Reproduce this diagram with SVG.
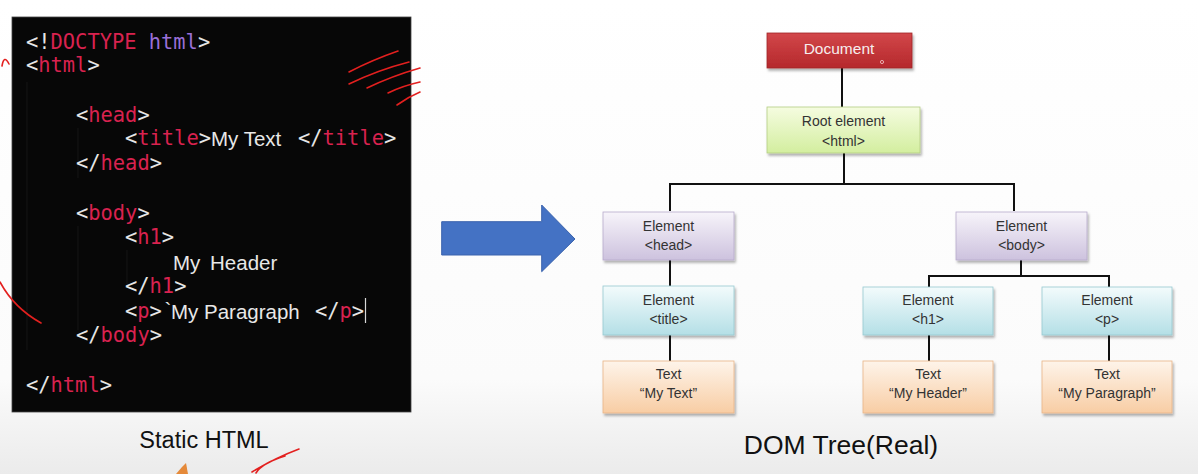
<svg xmlns="http://www.w3.org/2000/svg" width="1198" height="474" viewBox="0 0 1198 474">
<defs>
<linearGradient id="bg" x1="0" y1="0" x2="0" y2="1">
<stop offset="0" stop-color="#ffffff"/>
<stop offset="0.8" stop-color="#fbfbfb"/>
<stop offset="1" stop-color="#ebebeb"/>
</linearGradient>
<linearGradient id="gDoc" x1="0" y1="0" x2="0" y2="1"><stop offset="0" stop-color="#d2474a"/><stop offset="1" stop-color="#b5282c"/></linearGradient>
<linearGradient id="gRoot" x1="0" y1="0" x2="0" y2="1"><stop offset="0" stop-color="#f5fce0"/><stop offset="1" stop-color="#d3ee9f"/></linearGradient>
<linearGradient id="gPur" x1="0" y1="0" x2="0" y2="1"><stop offset="0" stop-color="#f7f4fa"/><stop offset="1" stop-color="#cdc2de"/></linearGradient>
<linearGradient id="gCyan" x1="0" y1="0" x2="0" y2="1"><stop offset="0" stop-color="#f3fbfc"/><stop offset="1" stop-color="#b4dfe6"/></linearGradient>
<linearGradient id="gOra" x1="0" y1="0" x2="0" y2="1"><stop offset="0" stop-color="#fef4ea"/><stop offset="1" stop-color="#f8cda4"/></linearGradient>
<filter id="sh" x="-10%" y="-10%" width="125%" height="135%">
<feDropShadow dx="1.5" dy="2.5" stdDeviation="1.2" flood-color="#000" flood-opacity="0.3"/>
</filter>
</defs>
<style>
.code{font-family:"DejaVu Sans Mono","Liberation Mono",monospace;font-size:20.4px;fill:#e6e6e6}
.tag{fill:#d9224f}
.kw{fill:#9a6fd8}
.plain{font-family:"Liberation Sans",Arial,sans-serif;font-size:20.5px;fill:#e8e8e8}
.lbl{font-family:"Liberation Sans",Arial,sans-serif;font-size:14px;fill:#333;text-anchor:middle}
.cap{font-family:"Liberation Sans",Arial,sans-serif;fill:#111;text-anchor:middle}
.pen{fill:none;stroke:#e3201f;stroke-width:1.6;stroke-linecap:round}
.guide{stroke:#141414;stroke-width:1.2}
.conn{stroke:#111;stroke-width:2;fill:none}
</style>
<rect x="0" y="0" width="1198" height="474" fill="url(#bg)"/>

<!-- code panel -->
<g id="code-panel">
<rect x="12" y="17" width="399" height="395" fill="#070707" stroke="#444" stroke-width="0.8"/>
<line class="guide" x1="27" y1="82" x2="27" y2="350"/>
<line class="guide" x1="78" y1="128" x2="78" y2="178"/>
<line class="guide" x1="78" y1="226" x2="78" y2="330"/>
<line class="guide" x1="127" y1="250" x2="127" y2="285"/>
<text class="code" x="26" y="49">&lt;!<tspan class="tag">DOCTYPE</tspan> <tspan class="kw">html</tspan>&gt;</text>
<text class="code" x="26" y="72">&lt;<tspan class="tag">html</tspan>&gt;</text>
<text class="code" x="76" y="122">&lt;<tspan class="tag">head</tspan>&gt;</text>
<text class="code" x="125" y="145">&lt;<tspan class="tag">title</tspan>&gt;</text>
<text class="plain" x="211" y="146">My Text</text>
<text class="code" x="298" y="145">&lt;/<tspan class="tag">title</tspan>&gt;</text>
<text class="code" x="76" y="170">&lt;/<tspan class="tag">head</tspan>&gt;</text>
<text class="code" x="76" y="220">&lt;<tspan class="tag">body</tspan>&gt;</text>
<text class="code" x="125" y="244">&lt;<tspan class="tag">h1</tspan>&gt;</text>
<text class="plain" x="173" y="270" word-spacing="4">My Header</text>
<text class="code" x="125" y="293">&lt;/<tspan class="tag">h1</tspan>&gt;</text>
<text class="code" x="125" y="318">&lt;<tspan class="tag">p</tspan>&gt;</text>
<text class="plain" x="164.5" y="317" font-size="8">`</text>
<text class="plain" x="171" y="319">My Paragraph</text>
<text class="code" x="315" y="318">&lt;/<tspan class="tag">p</tspan>&gt;</text>
<line x1="365.5" y1="298" x2="365.5" y2="323" stroke="#d8d8d8" stroke-width="1.2"/>
<text class="code" x="76" y="342">&lt;/<tspan class="tag">body</tspan>&gt;</text>
<text class="code" x="26" y="392">&lt;/<tspan class="tag">html</tspan>&gt;</text>
</g>

<text class="cap" x="204" y="448" font-size="23.5">Static HTML</text>

<!-- pen marks -->
<g id="pen-marks">
<path class="pen" d="M349,72 Q372,60 398,51"/>
<path class="pen" d="M349,84 Q378,70 409,62"/>
<path class="pen" d="M367,88 Q392,76 420,68"/>
<path class="pen" d="M388,93 Q402,86 420,82"/>
<path class="pen" d="M397,105 Q408,97 420,92"/>
<path class="pen" d="M2,66 Q4,54 9,64"/>
<path class="pen" d="M0,282 Q14,308 41,323"/>
<path class="pen" d="M252,472 Q275,458 299,449 M256,473 Q262,463 285,456"/>
<path d="M176,474 L182,467 L186,463 L188,474 Z" fill="#e58a3a"/>
</g>

<!-- big arrow -->
<g id="arrow">
<path d="M441.7,221.7 L541.7,221.7 L541.7,205 L575,239 L541.7,271.7 L541.7,255 L441.7,255 Z" fill="#4472c4" stroke="#3a63ad" stroke-width="1"/>
</g>

<!-- connectors -->
<g id="connectors">
<line class="conn" x1="842" y1="68" x2="842" y2="107"/>
<line class="conn" x1="844" y1="152" x2="844" y2="184" stroke-width="3"/>
<path class="conn" d="M670,211 L670,184 L1014,184 L1014,211"/>
<line class="conn" x1="670" y1="260" x2="670" y2="286"/>
<line class="conn" x1="670" y1="335" x2="670" y2="361"/>
<path class="conn" d="M1021,260 L1021,276" stroke-width="2.6"/>
<path class="conn" d="M929,287 L929,276 L1109,276 L1109,287"/>
<line class="conn" x1="929" y1="335" x2="929" y2="361"/>
<line class="conn" x1="1109" y1="335" x2="1109" y2="361"/>
</g>

<g id="node-document">
<rect x="767" y="33" width="145" height="35" fill="url(#gDoc)" stroke="#a02428" stroke-width="0.8" filter="url(#sh)"/>
<text x="839" y="54" font-family="Liberation Sans, Arial, sans-serif" font-size="15.5" fill="#f6eeee" text-anchor="middle">Document</text>
<circle cx="882" cy="62" r="1.6" fill="none" stroke="#f3c9c9" stroke-width="0.8"/>
</g>
<g id="node-root">
<rect x="767" y="107" width="153" height="46" fill="url(#gRoot)" stroke="#b3cd82" stroke-width="0.8" filter="url(#sh)"/>
<text class="lbl" x="843.5" y="126">Root element</text>
<text class="lbl" x="843.5" y="146">&lt;html&gt;</text>
</g>
<g id="node-head">
<rect x="603" y="212" width="131" height="48" fill="url(#gPur)" stroke="#b7aacb" stroke-width="0.8" filter="url(#sh)"/>
<text class="lbl" x="668.5" y="231">Element</text>
<text class="lbl" x="668.5" y="250">&lt;head&gt;</text>
</g>
<g id="node-body">
<rect x="956" y="212" width="131" height="48" fill="url(#gPur)" stroke="#b7aacb" stroke-width="0.8" filter="url(#sh)"/>
<text class="lbl" x="1021.5" y="231">Element</text>
<text class="lbl" x="1021.5" y="250">&lt;body&gt;</text>
</g>
<g id="node-title">
<rect x="603" y="286" width="131" height="49" fill="url(#gCyan)" stroke="#96c8d0" stroke-width="0.8" filter="url(#sh)"/>
<text class="lbl" x="668.5" y="305">Element</text>
<text class="lbl" x="668.5" y="324">&lt;title&gt;</text>
</g>
<g id="node-h1">
<rect x="863" y="287" width="130" height="48" fill="url(#gCyan)" stroke="#96c8d0" stroke-width="0.8" filter="url(#sh)"/>
<text class="lbl" x="928" y="305">Element</text>
<text class="lbl" x="928" y="324">&lt;h1&gt;</text>
</g>
<g id="node-p">
<rect x="1042" y="287" width="130" height="48" fill="url(#gCyan)" stroke="#96c8d0" stroke-width="0.8" filter="url(#sh)"/>
<text class="lbl" x="1107" y="305">Element</text>
<text class="lbl" x="1107" y="324">&lt;p&gt;</text>
</g>
<g id="node-text-title">
<rect x="603" y="361" width="131" height="52" fill="url(#gOra)" stroke="#e8b487" stroke-width="0.8" filter="url(#sh)"/>
<text class="lbl" x="668.5" y="379">Text</text>
<text class="lbl" x="668.5" y="398">“My Text”</text>
</g>
<g id="node-text-h1">
<rect x="863" y="361" width="130" height="52" fill="url(#gOra)" stroke="#e8b487" stroke-width="0.8" filter="url(#sh)"/>
<text class="lbl" x="928" y="379">Text</text>
<text class="lbl" x="928" y="398">“My Header”</text>
</g>
<g id="node-text-p">
<rect x="1042" y="361" width="130" height="52" fill="url(#gOra)" stroke="#e8b487" stroke-width="0.8" filter="url(#sh)"/>
<text class="lbl" x="1107" y="379">Text</text>
<text class="lbl" x="1107" y="398">“My Paragraph”</text>
</g>

<text class="cap" x="841" y="454" font-size="26.5">DOM Tree(Real)</text>
</svg>
